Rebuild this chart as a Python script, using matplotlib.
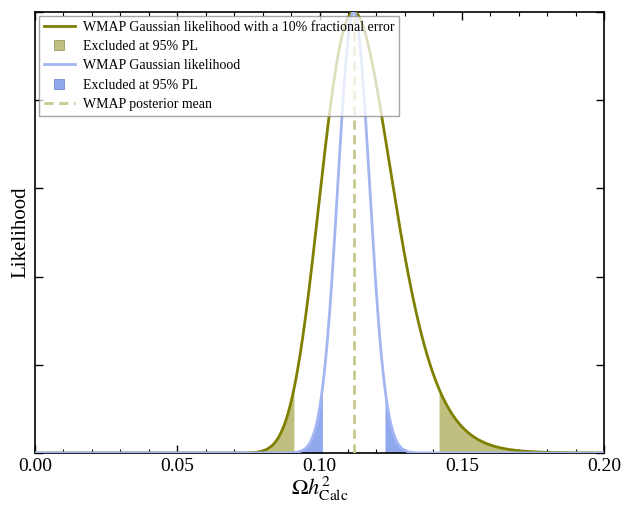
import numpy as np
import matplotlib
matplotlib.use("Agg")
import matplotlib.pyplot as plt
from matplotlib.lines import Line2D
from matplotlib.ticker import MultipleLocator, NullFormatter

plt.rcParams['font.family'] = ['Liberation Serif', 'DejaVu Serif']
plt.rcParams['mathtext.fontset'] = 'stix'

# WMAP relic density measurement
wmap_mean = 0.112
wmap_sigma = 0.0056
frac_err = 0.10

# 95% exclusion boundaries
olive_cut = [0.091, 0.142]
blue_cut = [0.101, 0.123]

x = np.linspace(0.0, 0.2, 2001)
like_frac = np.exp(-(x - wmap_mean)**2 / (2 * (wmap_sigma**2 + (frac_err * x)**2)))
like_gauss = np.exp(-(x - wmap_mean)**2 / (2 * wmap_sigma**2))

olive = '#808000'
olive_fill = '#bfbf80'
blue = '#a3b6f2'
blue_fill = '#90a8ee'
dash_col = '#c8c88c'
dash = (0, (3.3, 2))

fig = plt.figure(figsize=(6.24, 5.13), dpi=100)
ax = fig.add_axes([0.0561, 0.117, 0.912, 0.860])

ax.plot(x, like_frac, color=olive, lw=2, zorder=3)
lo = x <= olive_cut[0]
hi = x >= olive_cut[1]
ax.fill_between(x[lo], 0, like_frac[lo], color=olive_fill, lw=0, zorder=2)
ax.fill_between(x[hi], 0, like_frac[hi], color=olive_fill, lw=0, zorder=2)

ax.plot(x, like_gauss, color=blue, lw=2, zorder=3)
lo = x <= blue_cut[0]
hi = x >= blue_cut[1]
ax.fill_between(x[lo], 0, like_gauss[lo], color=blue_fill, lw=0, zorder=2)
ax.fill_between(x[hi], 0, like_gauss[hi], color=blue_fill, lw=0, zorder=2)

ax.plot([wmap_mean, wmap_mean], [0, 1], color=dash_col, lw=2, ls=dash, zorder=4)

ax.set_xlim(0, 0.2)
ax.set_ylim(0, 1.0)
ax.xaxis.set_major_locator(MultipleLocator(0.05))
ax.xaxis.set_minor_locator(MultipleLocator(0.01))
ax.yaxis.set_major_locator(MultipleLocator(0.2))
ax.yaxis.set_major_formatter(NullFormatter())
ax.xaxis.set_major_formatter(plt.FuncFormatter(lambda v, p: f"{v:.2f}"))
ax.tick_params(which='both', direction='in', top=True, right=True, labelsize=14)
ax.tick_params(which='major', length=6, width=1)
ax.tick_params(which='minor', length=3, width=0.8)
for s in ax.spines.values():
    s.set_linewidth(1.2)

ax.set_xlabel(r'$\Omega h^2_{\rm Calc}$', fontsize=16, labelpad=0)
ax.set_ylabel('Likelihood', fontsize=15, labelpad=0)

handles = [
    Line2D([], [], color=olive, lw=2),
    Line2D([], [], ls='none', marker='s', markersize=7,
           markerfacecolor=olive_fill, markeredgecolor='#9a9a60', markeredgewidth=0.6),
    Line2D([], [], color=blue, lw=2),
    Line2D([], [], ls='none', marker='s', markersize=7,
           markerfacecolor=blue_fill, markeredgecolor='#7088d0', markeredgewidth=0.6),
    Line2D([], [], color=dash_col, lw=2, ls=dash),
]
labels = [
    'WMAP Gaussian likelihood with a 10% fractional error',
    'Excluded at 95% PL',
    'WMAP Gaussian likelihood',
    'Excluded at 95% PL',
    'WMAP posterior mean',
]
leg = ax.legend(handles, labels, loc='upper left', fontsize=10, fancybox=False,
                framealpha=0.75, edgecolor='#888888', handlelength=2.2,
                handletextpad=0.6, borderpad=0.35, borderaxespad=0.3,
                labelspacing=0.45)
leg.get_frame().set_linewidth(1.0)
leg.set_zorder(5)

fig.savefig('out.png', dpi=100)
